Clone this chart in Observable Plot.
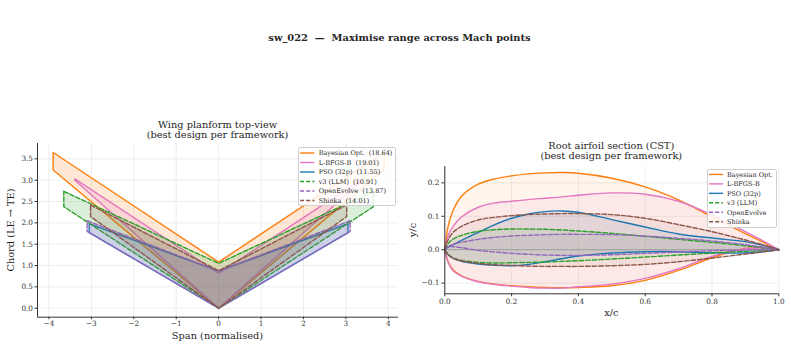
<!DOCTYPE html>
<html><head><meta charset="utf-8">
<script src="https://cdn.jsdelivr.net/npm/d3@7"></script>
<script src="https://cdn.jsdelivr.net/npm/@observablehq/plot@0.6"></script>
<style>
body{margin:0;background:#fff;}
#root{position:relative;width:791px;height:347px;overflow:hidden;font-family:"DejaVu Serif",serif;color:#262626;background:#fff}
.abs{position:absolute;white-space:pre;line-height:1;}
.c{transform:translate(-50%,-50%);}
.plot{position:absolute;top:0;}
.legend{position:absolute;border:1px solid #cfcfcf;border-radius:2px;background:rgba(255,255,255,0.85);box-sizing:border-box;}
</style></head><body><div id="root"></div>
<script>
// ---------- data ----------
const frameworks = ["Bayesian Opt.", "L-BFGS-B", "PSO (32p)", "v3 (LLM)", "OpenEvolve", "Shinka"];
const scores = ["18.64", "19.01", "11.55", "10.91", "13.87", "14.01"];
const colors = ["#ff7f0e", "#e377c2", "#1f77b4", "#2ca02c", "#9467bd", "#8c564b"];
const dashed = [false, false, false, true, true, true];

// planform (semi-span, root chord, tip LE offset, tip TE offset)
const semiSpan  = [3.90, 3.39, 3.05, 3.65, 3.10, 3.02];
const rootChord = [1.08, 0.82, 0.87, 1.05, 0.87, 0.88];
const tipLE     = [3.24, 3.00, 1.77, 2.38, 1.80, 2.15];
const tipTE     = [3.65, 3.03, 1.98, 2.74, 2.05, 2.42];

// airfoil stations and surfaces
const xc = [0, 0.01, 0.025, 0.05, 0.1, 0.15, 0.2, 0.25, 0.3, 0.35, 0.4, 0.5, 0.6, 0.7, 0.8, 0.9, 0.95, 1];
const upperBayes  = [0, 0.070, 0.118, 0.160, 0.196, 0.212, 0.221, 0.227, 0.230, 0.231, 0.229, 0.214, 0.188, 0.149, 0.098, 0.048, 0.024, 0];
const lowerBayes  = [0, -0.036, -0.060, -0.078, -0.095, -0.103, -0.108, -0.111, -0.113, -0.114, -0.113, -0.108, -0.092, -0.062, -0.024, 0.004, 0.006, 0];
const upperLBFGS  = [0, 0.042, 0.070, 0.098, 0.127, 0.140, 0.145, 0.150, 0.154, 0.158, 0.163, 0.170, 0.166, 0.145, 0.104, 0.054, 0.028, 0];
const lowerLBFGS  = [0, -0.038, -0.063, -0.079, -0.096, -0.104, -0.109, -0.113, -0.115, -0.115, -0.111, -0.103, -0.086, -0.057, -0.020, 0.003, 0.005, 0];
const upperPSO    = [0.003, 0.008, 0.015, 0.028, 0.052, 0.075, 0.094, 0.107, 0.114, 0.116, 0.112, 0.090, 0.068, 0.047, 0.035, 0.024, 0.014, 0];
const lowerPSO    = [0, -0.015, -0.026, -0.035, -0.043, -0.047, -0.048, -0.044, -0.036, -0.027, -0.019, -0.010, -0.006, -0.006, -0.009, -0.010, -0.006, 0];
const upperV3     = [0, 0.018, 0.032, 0.043, 0.055, 0.060, 0.062, 0.062, 0.061, 0.059, 0.056, 0.049, 0.040, 0.031, 0.022, 0.012, 0.006, 0];
const lowerV3     = [0, -0.015, -0.025, -0.032, -0.038, -0.040, -0.039, -0.038, -0.037, -0.035, -0.033, -0.028, -0.022, -0.016, -0.010, -0.005, -0.003, 0];
const upperOE     = [0, 0.009, 0.016, 0.022, 0.031, 0.037, 0.041, 0.043, 0.045, 0.046, 0.046, 0.045, 0.041, 0.034, 0.026, 0.015, 0.008, 0];
const lowerOE     = [0, 0.008, 0.009, 0.006, -0.002, -0.007, -0.011, -0.014, -0.016, -0.017, -0.017, -0.015, -0.011, -0.007, -0.003, -0.001, 0, 0];
const upperShinka = [0, 0.030, 0.052, 0.070, 0.089, 0.097, 0.102, 0.105, 0.107, 0.108, 0.108, 0.105, 0.094, 0.075, 0.054, 0.029, 0.015, 0];
const lowerShinka = [0, -0.015, -0.025, -0.033, -0.041, -0.045, -0.047, -0.049, -0.050, -0.050, -0.050, -0.048, -0.044, -0.036, -0.025, -0.013, -0.007, 0];

// axes
const spanTicks = [-4, -3, -2, -1, 0, 1, 2, 3, 4];
const chordTicks = [0, 0.5, 1, 1.5, 2, 2.5, 3, 3.5];
const spanDomain = [-4.27, 4.24];
const chordDomain = [-0.21, 3.86];
const xcTicks = [0, 0.2, 0.4, 0.6, 0.8, 1.0];
const ycTicks = [-0.1, 0, 0.1, 0.2];
const xcDomain = [0, 1];
const ycDomain = [-0.132, 0.249];

const uppers = [upperBayes, upperLBFGS, upperPSO, upperV3, upperOE, upperShinka];
const lowers = [lowerBayes, lowerLBFGS, lowerPSO, lowerV3, lowerOE, lowerShinka];

// ---------- build ----------
const root = document.getElementById("root");
const dash = d => d ? "4.6,2" : null;
const gridStyle = {stroke: "#e8e8e8", strokeOpacity: 1, strokeWidth: 0.8};
const LW = 1.4;

// Left: planform
const leftMarks = [
  Plot.gridX({ticks: spanTicks, ...gridStyle}),
  Plot.gridY({ticks: chordTicks, ...gridStyle})
];
frameworks.forEach((f, i) => {
  const s = semiSpan[i];
  const band = [
    {x: -s, lo: tipLE[i], hi: tipTE[i]},
    {x: 0, lo: 0, hi: rootChord[i]},
    {x: s, lo: tipLE[i], hi: tipTE[i]}
  ];
  const outline = [
    {x: -s, y: tipTE[i]}, {x: 0, y: rootChord[i]}, {x: s, y: tipTE[i]},
    {x: s, y: tipLE[i]}, {x: 0, y: 0}, {x: -s, y: tipLE[i]}, {x: -s, y: tipTE[i]}
  ];
  leftMarks.push(Plot.areaY(band, {x: "x", y1: "lo", y2: "hi", fill: colors[i], fillOpacity: 0.17}));
  leftMarks.push(Plot.line(outline, {x: "x", y: "y", stroke: colors[i], strokeWidth: LW, strokeDasharray: dash(dashed[i])}));
});
leftMarks.push(
  Plot.ruleX([spanDomain[0]], {stroke: "#333", strokeWidth: 1}),
  Plot.ruleY([chordDomain[0]], {stroke: "#333", strokeWidth: 1}),
  Plot.axisX({ticks: spanTicks, tickSize: 2.5, tickPadding: 1, label: null, stroke: "#333"}),
  Plot.axisY({ticks: chordTicks, tickSize: 2.5, tickPadding: 2, tickFormat: d3.format(".1f"), label: null, stroke: "#333"})
);
const left = Plot.plot({
  width: 400, height: 347,
  marginLeft: 37, marginRight: 2, marginTop: 143, marginBottom: 30.3,
  x: {domain: spanDomain},
  y: {domain: chordDomain},
  style: {fontFamily: "DejaVu Serif", fontSize: "7.3px", color: "#333", background: "transparent"},
  marks: leftMarks
});
left.classList.add("plot");
left.style.left = "0px";
root.appendChild(left);

// Right: airfoil
const rightMarks = [
  Plot.gridX({ticks: xcTicks, ...gridStyle}),
  Plot.gridY({ticks: ycTicks, ...gridStyle})
];
const rows = frameworks.map((f, i) => xc.map((x, k) => ({x, up: uppers[i][k], lo: lowers[i][k]})));
frameworks.forEach((f, i) => {
  rightMarks.push(Plot.areaY(rows[i], {x: "x", y1: "lo", y2: "up", fill: colors[i], fillOpacity: 0.08, curve: "catmull-rom"}));
});
rightMarks.push(Plot.ruleY([0], {stroke: "#9a9a9a", strokeWidth: 0.9}));
frameworks.forEach((f, i) => {
  const st = {x: "x", stroke: colors[i], strokeWidth: LW, strokeDasharray: dash(dashed[i]), curve: "catmull-rom"};
  rightMarks.push(Plot.line(rows[i], {...st, y: "up"}));
  rightMarks.push(Plot.line(rows[i], {...st, y: "lo"}));
});
rightMarks.push(
  Plot.ruleX([xcDomain[0]], {stroke: "#333", strokeWidth: 1}),
  Plot.ruleY([ycDomain[0]], {stroke: "#333", strokeWidth: 1}),
  Plot.axisX({ticks: xcTicks, tickSize: 3, tickPadding: 2, tickFormat: d3.format(".1f"), label: null, stroke: "#333"}),
  Plot.axisY({ticks: ycTicks, tickSize: 3, tickPadding: 2.5, tickFormat: d3.format(".1f"), label: null, stroke: "#333"})
);
const right = Plot.plot({
  width: 391, height: 347,
  marginLeft: 44.3, marginRight: 12.7, marginTop: 166, marginBottom: 53.7,
  x: {domain: xcDomain},
  y: {domain: ycDomain},
  style: {fontFamily: "DejaVu Serif", fontSize: "7.3px", color: "#333", background: "transparent"},
  marks: rightMarks
});
right.classList.add("plot");
right.style.left = "400px";
root.appendChild(right);

// ---------- texts ----------
function label(text, x, y, size, opts = {}) {
  const d = document.createElement("div");
  d.className = "abs c";
  d.textContent = text;
  d.style.left = x + "px";
  d.style.top = y + "px";
  d.style.fontSize = size + "px";
  if (opts.bold) d.style.fontWeight = "bold";
  if (opts.rotate) d.style.transform = "translate(-50%,-50%) rotate(-90deg)";
  root.appendChild(d);
}
label("sw_022  \u2014  Maximise range across Mach points", 399.5, 38, 9.9, {bold: true});
label("Wing planform top-view", 217.5, 124.5, 9.8);
label("(best design per framework)", 217.5, 135, 9.8);
label("Root airfoil section (CST)", 611.3, 145.7, 9.8);
label("(best design per framework)", 611.3, 156.2, 9.8);
label("Span (normalised)", 217.5, 335.7, 9.8);
label("Chord (LE \u2192 TE)", 10.5, 230, 9.8, {rotate: true});
label("x/c", 611.3, 312.7, 9.8);
label("y/c", 412.7, 230, 9.8, {rotate: true});

// ---------- legends ----------
function legend(x, y, w, h, firstRow, step, lineX0, lineX1, textX, withScores) {
  const box = document.createElement("div");
  box.className = "legend";
  Object.assign(box.style, {left: x + "px", top: y + "px", width: w + "px", height: h + "px"});
  const svg = d3.select(box).append("svg").attr("width", w).attr("height", h)
    .style("position", "absolute").style("left", "-1px").style("top", "-1px").style("overflow", "visible");
  frameworks.forEach((f, i) => {
    const cy = firstRow + i * step;
    svg.append("line").attr("x1", lineX0).attr("x2", lineX1).attr("y1", cy).attr("y2", cy)
      .attr("stroke", colors[i]).attr("stroke-width", 1.4)
      .attr("stroke-dasharray", dashed[i] ? "4,2.2" : null);
    svg.append("text").attr("x", textX).attr("y", cy).attr("dy", "0.35em")
      .attr("font-family", "DejaVu Serif").attr("font-size", 6.5).attr("fill", "#262626")
      .style("white-space", "pre")
      .text(withScores ? `${f}  (${scores[i]})` : f);
  });
  root.appendChild(box);
}
legend(298.3, 146.7, 98, 59, 6, 9.5, 2, 16.5, 20.7, true);
legend(706.7, 169.3, 70, 58.4, 5.4, 9.47, 2, 16, 20, false);
</script>
</body></html>
